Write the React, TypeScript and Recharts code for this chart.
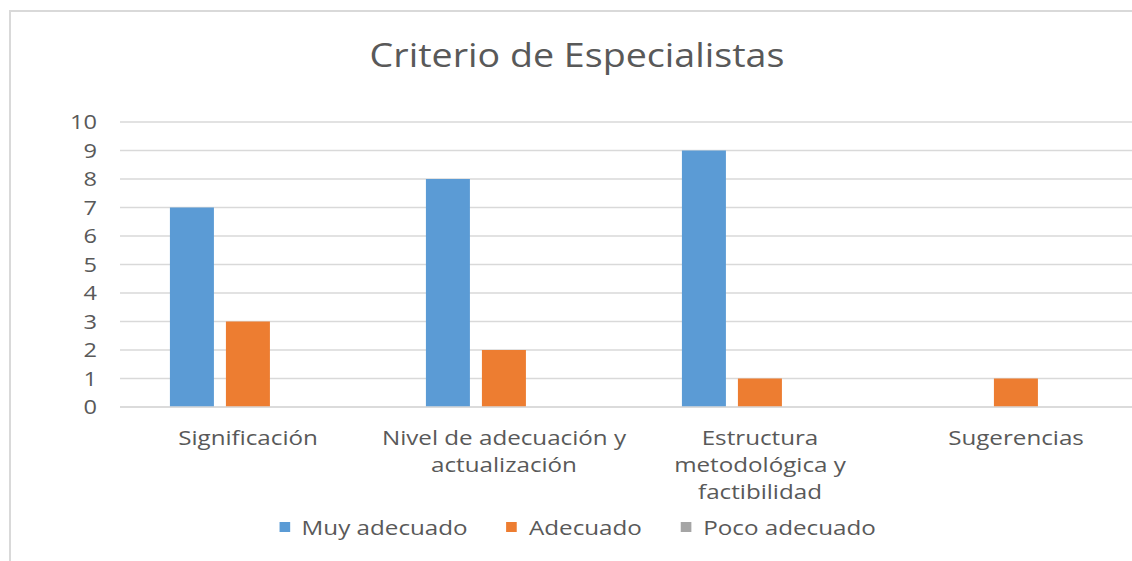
import { Bar, BarChart, CartesianGrid, Legend, XAxis, YAxis } from 'recharts';

const categories = ['Significación', 'Nivel de adecuación y actualización', 'Estructura metodológica y factibilidad', 'Sugerencias'];
const tickLines = [
  ['Significación'],
  ['Nivel de adecuación y', 'actualización'],
  ['Estructura', 'metodológica y', 'factibilidad'],
  ['Sugerencias'],
];
const muyAdecuado = [7, 8, 9, 0];
const adecuado = [3, 2, 1, 1];
const pocoAdecuado = [0, 0, 0, 0];
const yTicks = [0, 1, 2, 3, 4, 5, 6, 7, 8, 9, 10];

const seriesInfo = [
  { key: 'muy', name: 'Muy adecuado', color: '#5B9BD5' },
  { key: 'adecuado', name: 'Adecuado', color: '#ED7D31' },
  { key: 'poco', name: 'Poco adecuado', color: '#A5A5A5' },
];

const data = categories.map((cat, i) => ({
  cat,
  muy: muyAdecuado[i],
  adecuado: adecuado[i],
  poco: pocoAdecuado[i],
}));

const FONT = '"Open Sans", Lato, sans-serif';
const TEXT = '#595959';
// the original picture is a bit wider than tall, text looks stretched
const SX = 1.18;

const CategoryTick = (props: any) => {
  const { x, y, payload } = props;
  const lines = tickLines[payload.index] ?? [payload.value];
  return (
    <g transform={`translate(${x},${y}) scale(${SX},1)`}>
      {lines.map((line: string, i: number) => (
        <text key={i} x={0} y={30 + i * 27} textAnchor="middle" fill={TEXT} fontSize={20.5} fontFamily={FONT}>
          {line}
        </text>
      ))}
    </g>
  );
};

const ValueTick = (props: any) => {
  const { x, y, payload } = props;
  return (
    <g transform={`translate(${x},${y}) scale(${SX},1)`}>
      <text x={0} y={0} dy="0.36em" textAnchor="end" fill={TEXT} fontSize={20} fontFamily={FONT}>
        {payload.value}
      </text>
    </g>
  );
};

const LegendContent = () => (
  <div
    style={{
      display: 'flex',
      justifyContent: 'center',
      gap: 33,
      fontFamily: FONT,
      fontSize: 20.5,
      color: TEXT,
      transform: `scaleX(${SX})`,
    }}
  >
    {seriesInfo.map((s) => (
      <div key={s.key} style={{ display: 'flex', alignItems: 'center' }}>
        <span style={{ width: 9, height: 10, background: s.color, marginRight: 10, display: 'inline-block' }} />
        <span>{s.name}</span>
      </div>
    ))}
  </div>
);

const App = () => {
  return (
    <div style={{ position: 'fixed', left: 0, top: 0, width: 1132, height: 561, overflow: 'hidden', background: '#fff' }}>
      <div
        style={{
          position: 'absolute',
          left: 9,
          top: 10,
          width: 1140,
          height: 560,
          border: '2px solid #D9D9D9',
          boxSizing: 'border-box',
        }}
      >
        <div
          style={{
            position: 'absolute',
            left: 0,
            width: 1132,
            top: 20,
            textAlign: 'center',
            fontFamily: FONT,
            fontSize: 33,
            color: TEXT,
            transform: 'scaleX(1.14)',
          }}
        >
          Criterio de Especialistas
        </div>
        <BarChart
          width={1136}
          height={556}
          data={data}
          margin={{ top: 110, right: 3, bottom: 0, left: 0 }}
          barCategoryGap="19.5%"
          barGap={12}
        >
          <CartesianGrid vertical={false} stroke="#D9D9D9" strokeWidth={1.5} />
          <XAxis
            dataKey="cat"
            axisLine={{ stroke: '#D9D9D9', strokeWidth: 1.5 }}
            tickLine={false}
            interval={0}
            height={133}
            tick={<CategoryTick />}
          />
          <YAxis
            width={109}
            domain={[0, 10]}
            ticks={yTicks}
            interval={0}
            axisLine={false}
            tickLine={false}
            tickMargin={17}
            tick={<ValueTick />}
          />
          <Legend verticalAlign="bottom" content={<LegendContent />} wrapperStyle={{ bottom: 27 }} />
          {seriesInfo.map((s) => (
            <Bar key={s.key} dataKey={s.key} name={s.name} fill={s.color} isAnimationActive={false} />
          ))}
        </BarChart>
      </div>
    </div>
  );
};

export default App;
